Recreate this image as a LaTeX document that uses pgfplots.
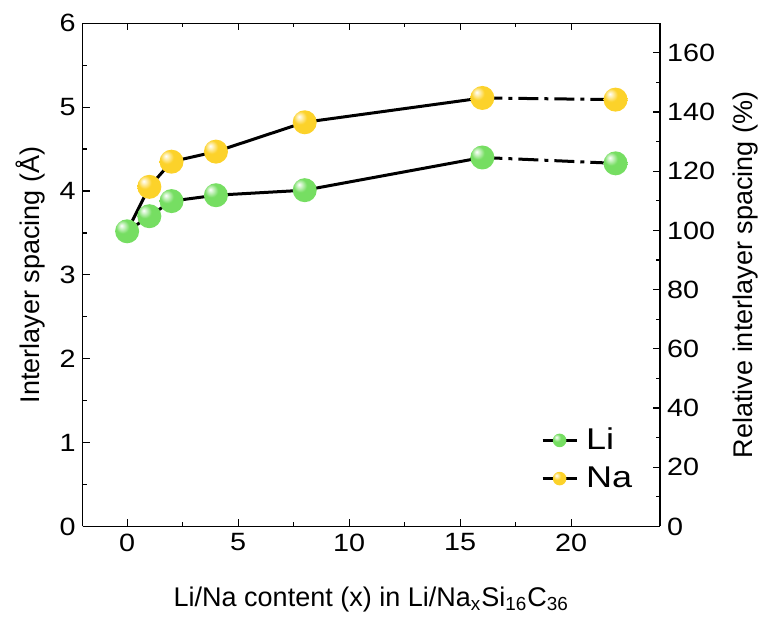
\documentclass[border=0pt]{standalone}
\usepackage{pgfplots}
\pgfplotsset{compat=1.18}
\usepackage{fontspec}
\setmainfont{Liberation Sans}
\newfontfamily\widefont{Liberation Sans}[FakeStretch=1.15]
\newfontfamily\legfont{Liberation Sans}[FakeStretch=1.2]
\definecolor{ligreen}{RGB}{118,222,98}
\definecolor{nayellow}{RGB}{252,210,42}
\pgfdeclareradialshading{liball}{\pgfqpoint{-12bp}{12bp}}{%
  color(0bp)=(white); color(5bp)=(ligreen!35!white); color(14bp)=(ligreen);
  color(36bp)=(ligreen); color(50bp)=(ligreen!80!black); color(70bp)=(ligreen!60!black)}
\pgfdeclareradialshading{naball}{\pgfqpoint{-12bp}{12bp}}{%
  color(0bp)=(white); color(5bp)=(nayellow!35!white); color(14bp)=(nayellow);
  color(36bp)=(nayellow); color(50bp)=(nayellow!85!black); color(70bp)=(nayellow!65!black)}
\pgfdeclareplotmark{liball}{\pgfpathcircle{\pgfpointorigin}{\pgfplotmarksize}\pgfshadepath{liball}{0}\pgfusepath{discard}}
\pgfdeclareplotmark{naball}{\pgfpathcircle{\pgfpointorigin}{\pgfplotmarksize}\pgfshadepath{naball}{0}\pgfusepath{discard}}
\begin{document}
\begin{tikzpicture}
\pgfplotsset{
  every axis/.append style={
    width=288.5pt, height=251.5pt, scale only axis,
    font=\fontsize{12.5}{14}\selectfont,
    tick label style={font=\widefont\fontsize{12.5}{14}\selectfont},
    label style={font=\fontsize{13.5}{15}\selectfont},
    /pgf/number format/assume math mode=true,
    tick align=inside,
    major tick length=3.5pt, minor tick length=2pt,
    every tick/.style={black, line width=0.6pt},
    axis line style={line width=0.7pt},
    xmin=-2, xmax=24,
  }
}
\begin{axis}[
  name=main,
  axis y line*=left, axis x line*=box,
  ymin=0, ymax=6,
  xtick={0,5,10,15,20}, minor x tick num=1,
  ytick={0,1,2,3,4,5,6}, minor y tick num=1,
  xlabel={Li/Na content (x) in Li/Na\textsubscript{x}Si\textsubscript{16}C\textsubscript{36}},
  ylabel={Interlayer spacing (Å)},
  xlabel style={yshift=-11pt},
  ylabel style={yshift=0.5pt},
  legend style={draw=none, fill=none, at={(0.97,0.055)}, anchor=south east,
    font=\legfont\fontsize{15}{17}\selectfont, row sep=3pt,
    /tikz/every odd column/.append style={column sep=2pt}},
  legend cell align=left,
]
% lines
\addplot[black, line width=1.5pt, forget plot] coordinates {(0,3.52) (1,4.05) (2,4.35) (4,4.47) (8,4.82) (16,5.11)};
\addplot[black, line width=1.5pt, dash pattern=on 10pt off 3pt on 2pt off 3pt, forget plot] coordinates {(16,5.11) (22,5.09)};
\addplot[black, line width=1.5pt, forget plot] coordinates {(0,3.52) (1,3.70) (2,3.88) (4,3.95) (8,4.01) (16,4.40)};
\addplot[black, line width=1.5pt, dash pattern=on 10pt off 3pt on 2pt off 3pt, forget plot] coordinates {(16,4.40) (22,4.33)};
% markers
\addplot[only marks, mark=naball, mark size=6pt, forget plot] coordinates {(1,4.05) (2,4.35) (4,4.47) (8,4.82) (16,5.11) (22,5.09)};
\addplot[only marks, mark=liball, mark size=6pt, forget plot] coordinates {(0,3.52) (1,3.70) (2,3.88) (4,3.95) (8,4.01) (16,4.40) (22,4.33)};
\addlegendimage{black, line width=1.5pt, mark=liball, mark size=3.4pt}
\addlegendentry{Li}
\addlegendimage{black, line width=1.5pt, mark=naball, mark size=3.4pt}
\addlegendentry{Na}
\end{axis}
\begin{axis}[
  axis y line*=right, axis x line=none,
  ymin=0, ymax=170,
  ytick={0,20,...,160}, minor y tick num=1,
  ylabel={Relative interlayer spacing (\%)},
  ylabel style={yshift=-2pt},
]
\addplot[draw=none, forget plot] coordinates {(0,0)};
\end{axis}
\pgfresetboundingbox
\path ([xshift=-41.35pt, yshift=-48pt] main.south west) rectangle ([xshift=49.5pt, yshift=11.65pt] main.north east);
\end{tikzpicture}
\end{document}
